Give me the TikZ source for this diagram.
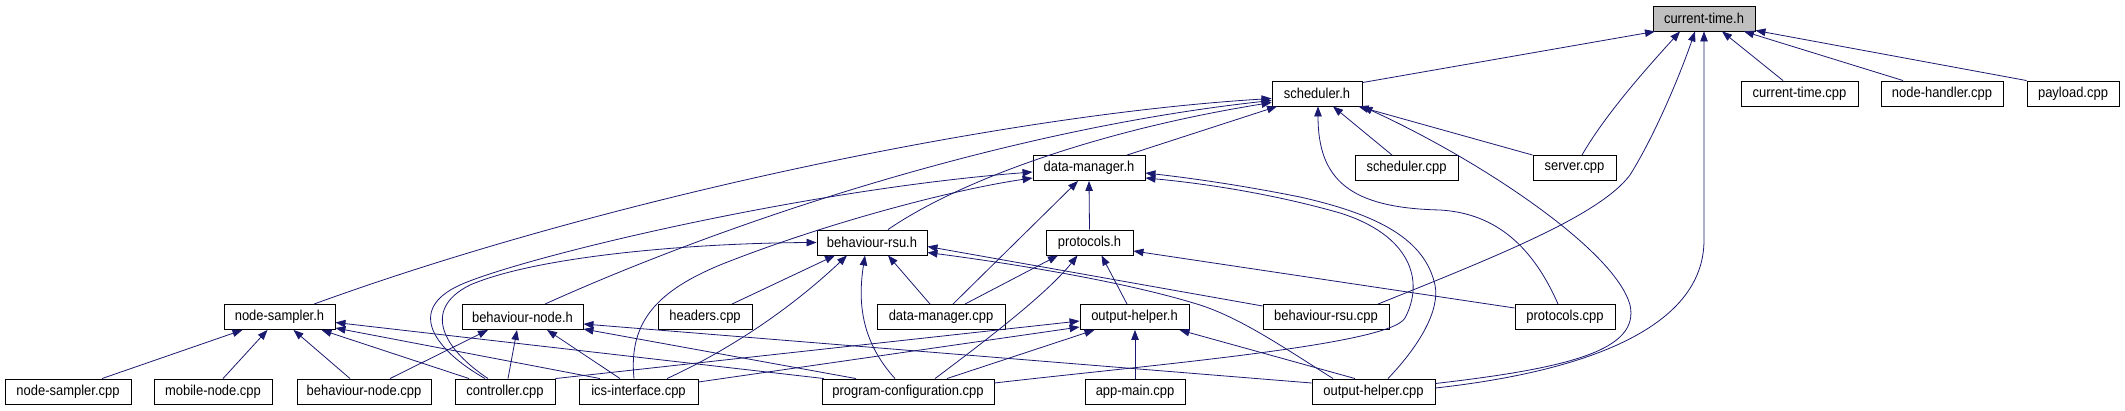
\documentclass[tikz,border=0pt]{standalone}
\usepackage{fontspec}
\setmainfont{Liberation Sans}
\newfontfamily\boxfont[FakeStretch=0.9]{Liberation Sans}
\usetikzlibrary{arrows.meta}
\definecolor{eb}{RGB}{25,25,112}
\definecolor{hl}{RGB}{191,191,191}
\begin{document}
\begin{tikzpicture}[x=1pt,y=-1pt,
 box/.style={draw=black,line width=0.9pt,minimum height=25pt,inner sep=0pt,font=\boxfont\fontsize{14.4}{16}\selectfont,fill=white},
 e/.style={draw=eb,line width=0.8pt,-{Triangle[length=10pt,width=7.5pt]}}]
\useasboundingbox (0,0) rectangle (2125,411);
% row 1
\node[box,fill=hl,minimum width=102pt] (ct) at (1704,18.5) {current-time.h};
% row 2
\node[box,minimum width=90pt] (sch) at (1317,93.5) {scheduler.h};
\node[box,minimum width=117pt] (ctc) at (1799.5,93.5) {current-time.cpp};
\node[box,minimum width=122pt] (nh) at (1942,93.5) {node-handler.cpp};
\node[box,minimum width=92pt] (pl) at (2073,93.5) {payload.cpp};
% row 3
\node[box,minimum width=112pt] (dmh) at (1089,168) {data-manager.h};
\node[box,minimum width=103pt] (schc) at (1406.5,168) {scheduler.cpp};
\node[box,minimum width=83pt] (srv) at (1574.5,168) {server.cpp};
% row 4
\node[box,minimum width=110pt] (brh) at (872,242.5) {behaviour-rsu.h};
\node[box,minimum width=87pt] (prh) at (1089.5,242.5) {protocols.h};
% row 5
\node[box,minimum width=111pt] (nsh) at (279.5,317) {node-sampler.h};
\node[box,minimum width=121pt] (bnh) at (522.5,317) {behaviour-node.h};
\node[box,minimum width=94pt] (hdc) at (705,317) {headers.cpp};
\node[box,minimum width=128pt] (dmc) at (941,317) {data-manager.cpp};
\node[box,minimum width=109pt] (ohh) at (1134.5,317) {output-helper.h};
\node[box,minimum width=126pt] (brc) at (1326,317) {behaviour-rsu.cpp};
\node[box,minimum width=100pt] (prc) at (1565,317) {protocols.cpp};
% row 6
\node[box,minimum width=126pt] (nsc) at (68,391.5) {node-sampler.cpp};
\node[box,minimum width=118pt] (mnc) at (213,391.5) {mobile-node.cpp};
\node[box,minimum width=134pt] (bnc) at (364,391.5) {behaviour-node.cpp};
\node[box,minimum width=100pt] (ctl) at (505,391.5) {controller.cpp};
\node[box,minimum width=119pt] (ics) at (638.5,391.5) {ics-interface.cpp};
\node[box,minimum width=172pt] (pgc) at (908,391.5) {program-configuration.cpp};
\node[box,minimum width=100pt] (amc) at (1135,391.5) {app-main.cpp};
\node[box,minimum width=123pt] (ohc) at (1373.5,391.5) {output-helper.cpp};
% into current-time.h
\draw[e] ([yshift=-2pt]sch.north east) -- ([xshift=-49pt]ct.south);
\draw[e] ([xshift=7.5pt]srv.north) .. controls (1605,115) and (1645,70) .. ([xshift=-24pt]ct.south);
\draw[e] ([xshift=52pt]brc.north) .. controls (1500,255) and (1600,215) .. (1630,175) .. controls (1655,135) and (1680,75) .. ([xshift=-9pt]ct.south);
\draw[e] ([yshift=3.5pt]ohc.east) .. controls (1580,372) and (1704,330) .. (1704,240) -- (ct.south);
\draw[e] ([xshift=-16.5pt]ctc.north) -- ([xshift=18pt]ct.south);
\draw[e] ([xshift=-39pt]nh.north) -- ([xshift=40pt]ct.south);
\draw[e] (pl.north west) -- ([yshift=1pt]ct.south east);
% into scheduler.h
\draw[e] ([xshift=38pt]dmh.north) -- ([xshift=-40pt]sch.south);
\draw[e] ([xshift=-14.5pt]schc.north) -- ([xshift=16pt]sch.south);
\draw[e] (srv.north west) -- ([xshift=-4pt]sch.south east);
\draw[e] ([yshift=8pt]ohc.east) .. controls (1570,368) and (1640,350) .. (1630,305) .. controls (1615,250) and (1480,160) .. (sch.south east);
\draw[e] ([xshift=-7pt]prc.north) .. controls (1530,240) and (1490,213) .. (1440,210) .. controls (1350,208) and (1318,180) .. ([xshift=1pt]sch.south);
\draw[e] ([xshift=34.5pt]nsh.north) .. controls (600,200) and (1000,115) .. ([yshift=-5pt]sch.west);
\draw[e] ([xshift=22.5pt]bnh.north) .. controls (720,225) and (1000,130) .. ([yshift=-7pt]sch.west);
\draw[e] ([xshift=16pt]brh.north) .. controls (960,180) and (1100,130) .. ([yshift=-9pt]sch.west);
% into data-manager.h
\draw[e] ([xshift=-20pt]ctl.north) .. controls (435,350) and (405,310) .. (460,285) .. controls (520,258) and (800,190) .. ([yshift=-4pt]dmh.west);
\draw[e] ([xshift=-4.5pt]ics.north) .. controls (628,320) and (660,290) .. (720,265) .. controls (820,225) and (950,190) .. ([yshift=-10pt]dmh.west);
\draw[e] ([xshift=12pt]dmc.north) -- ([xshift=-11pt]dmh.south);
\draw[e] (prh.north) -- (dmh.south);
\draw[e] ([yshift=8.5pt]pgc.east) .. controls (1150,365) and (1390,345) .. (1405,318) .. controls (1425,280) and (1410,235) .. (1340,213) .. controls (1270,193) and (1200,183) .. ([yshift=-10pt]dmh.east);
\draw[e] ([xshift=14.5pt]ohc.north) .. controls (1420,345) and (1440,310) .. (1435,285) .. controls (1425,240) and (1380,215) .. (1300,197) .. controls (1240,185) and (1190,178) .. ([yshift=-5pt]dmh.east);
% into behaviour-rsu.h
\draw[e] ([xshift=-17pt]ctl.north) .. controls (445,350) and (420,310) .. (470,285) .. controls (540,255) and (700,243) .. (brh.west);
\draw[e] ([xshift=27pt]hdc.north) -- ([xshift=-37pt]brh.south);
\draw[e] ([xshift=28.5pt]ics.north) .. controls (740,345) and (800,300) .. ([xshift=-25pt]brh.south);
\draw[e] ([xshift=-13pt]pgc.north) .. controls (860,340) and (858,300) .. ([xshift=-7pt]brh.south);
\draw[e] ([xshift=-11pt]dmc.north) -- ([xshift=16pt]brh.south);
\draw[e] ([yshift=11pt]brc.west) -- ([yshift=-4pt]brh.east);
\draw[e] ([xshift=-40.5pt]ohc.north) .. controls (1280,345) and (1240,318) .. (1200,305) .. controls (1120,280) and (1000,262) .. ([yshift=-10pt]brh.east);
% into protocols.h
\draw[e] ([xshift=24pt]dmc.north) -- ([xshift=-31.5pt]prh.south);
\draw[e] ([xshift=27pt]pgc.north) .. controls (1000,330) and (1050,290) .. ([xshift=-12pt]prh.south);
\draw[e] ([xshift=-7.5pt]ohh.north) -- ([xshift=12pt]prh.south);
\draw[e] ([yshift=9pt]prc.west) -- ([yshift=-8.5pt]prh.east);
% into node-sampler.h
\draw[e] ([xshift=34pt]nsc.north) -- ([xshift=-37pt]nsh.south);
\draw[e] ([xshift=10pt]mnc.north) -- ([xshift=-12pt]nsh.south);
\draw[e] ([xshift=-14pt]bnc.north) -- ([xshift=14pt]nsh.south);
\draw[e] ([xshift=-36pt]ctl.north) -- ([xshift=42pt]nsh.south);
\draw[e] ([xshift=-38.5pt]ics.north) -- ([yshift=-11pt]nsh.east);
\draw[e] ([xshift=-84pt]pgc.north) -- ([yshift=-5.5pt]nsh.east);
% into behaviour-node.h
\draw[e] ([xshift=26pt]bnc.north) -- ([xshift=-34.5pt]bnh.south);
\draw[e] ([xshift=3pt]ctl.north) -- ([xshift=-5.5pt]bnh.south);
\draw[e] ([xshift=-18.5pt]ics.north) -- ([xshift=24.5pt]bnh.south);
\draw[e] ([xshift=-52pt]pgc.north) -- ([yshift=-12pt]bnh.east);
\draw[e] ([yshift=8.5pt]ohc.west) -- ([yshift=-7pt]bnh.east);
% into output-helper.h
\draw[e] (ctl.north east) -- ([yshift=-4pt]ohh.west);
\draw[e] ([yshift=9.5pt]ics.east) -- ([yshift=-10pt]ohh.west);
\draw[e] ([xshift=39pt]pgc.north) -- ([xshift=-40pt]ohh.south);
\draw[e] (amc.north) -- (amc.north |- ohh.south);
\draw[e] ([xshift=-18.5pt]ohc.north) -- ([xshift=45pt]ohh.south);
\end{tikzpicture}
\end{document}
